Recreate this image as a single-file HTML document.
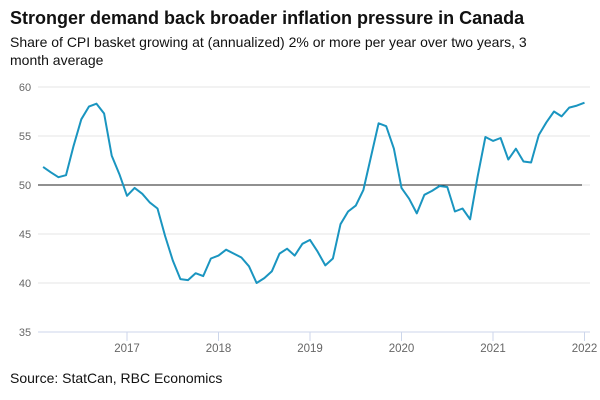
<!DOCTYPE html>
<html><head><meta charset="utf-8"><style>
body{margin:0;background:#fff;font-family:"Liberation Sans",sans-serif;}
#wrap{position:relative;width:600px;height:400px;overflow:hidden;}
.t{position:absolute;left:10px;color:#111;}
</style></head><body>
<div id="wrap">
<div class="t" style="top:8px;font-size:18px;font-weight:bold;">Stronger demand back broader inflation pressure in Canada</div>
<div class="t" style="top:33px;font-size:14px;line-height:18px;width:550px;">Share of CPI basket growing at (annualized) 2% or more per year over two years, 3 month average</div>
<svg id="chart" width="600" height="400" style="position:absolute;left:0;top:0"></svg>
<div class="t" style="top:370px;font-size:14px;">Source: StatCan, RBC Economics</div>
</div>
<script>
const yTicks=[35,40,45,50,55,60];
const xYears=[2017,2018,2019,2020,2021,2022];
const startYear=2016, startMonth=1; // Feb 2016 (0-based month)
const values=[51.85,51.3,50.8,51.0,54.0,56.7,58.0,58.3,57.3,53.0,51.1,
48.9,49.7,49.1,48.2,47.6,44.8,42.3,40.4,40.3,41.0,40.7,42.5,
42.8,43.4,43.0,42.6,41.7,40.0,40.5,41.2,43.0,43.5,42.8,44.0,
44.4,43.2,41.8,42.5,46.0,47.3,47.9,49.5,52.9,56.3,56.0,53.7,
49.7,48.6,47.1,49.0,49.4,49.9,49.8,47.3,47.6,46.5,50.9,54.9,
54.5,54.8,52.6,53.7,52.4,52.3,55.1,56.4,57.5,57.0,57.9,58.1,
58.4];
const refLine=50;
const NS="http://www.w3.org/2000/svg";
const svg=document.getElementById('chart');
const y=v=>87+(60-v)*9.8;
const x=t=>127+(t-2017)*91.5;
function mk(tag,at){const e=document.createElementNS(NS,tag);for(const k in at)e.setAttribute(k,at[k]);svg.appendChild(e);return e;}
yTicks.forEach(v=>{
 const g=mk('line',{x1:38,x2:590,y1:y(v),y2:y(v),stroke:v===35?'#ccd6eb':'#e6e6e6','stroke-width':1});
 
 
 const l=mk('text',{x:25,y:y(v)+4,'text-anchor':'middle','font-size':11,fill:'#666','font-family':'Liberation Sans, sans-serif'});
 l.textContent=v;
 
 
});
xYears.forEach(yr=>{
 const tk=mk('line',{x1:x(yr),x2:x(yr),y1:332,y2:341,stroke:'#ccd6eb'});
 
 
 const l=mk('text',{x:x(yr),y:352,'text-anchor':'middle','font-size':11.5,fill:'#666','font-family':'Liberation Sans, sans-serif'});
 l.textContent=yr;
 
 
});
const rl=mk('line',{x1:38,x2:582,y1:y(refLine),y2:y(refLine),stroke:'#222','stroke-width':1});


const pts=values.map((v,i)=>x(startYear+(startMonth+i)/12).toFixed(1)+','+y(v).toFixed(1)).join(' ');
const pl=mk('polyline',{points:pts,fill:'none',stroke:'#1a95c0','stroke-width':2,'stroke-linejoin':'round'});


</script>
</body></html>
